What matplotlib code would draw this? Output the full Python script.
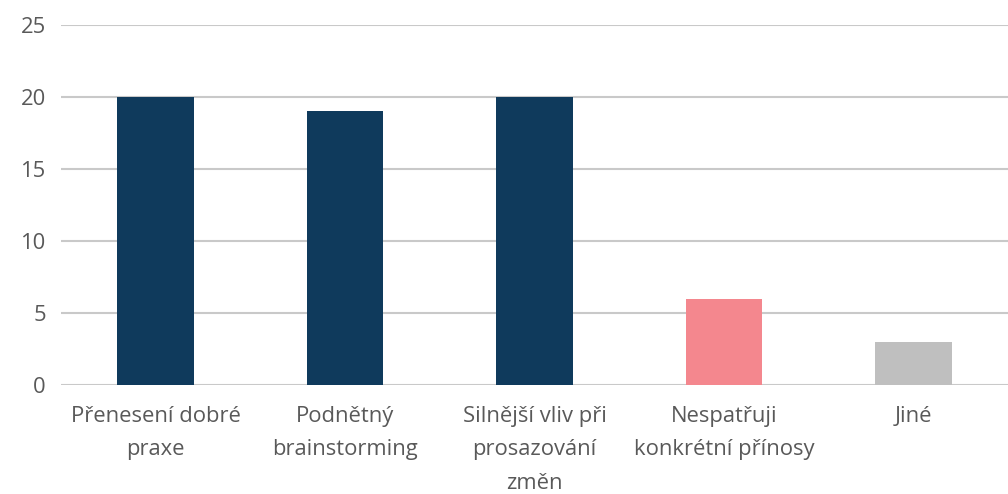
import matplotlib.pyplot as plt

categories = ['Přenesení dobré\npraxe', 'Podnětný\nbrainstorming',
              'Silnější vliv při\nprosazování\nzměn',
              'Nespatřuji\nkonkrétní přínosy', 'Jiné']
values = [20, 19, 20, 6, 3]
colors = ['#0F3A5C', '#0F3A5C', '#0F3A5C', '#F4878E', '#BFBFBF']
yticks = [0, 5, 10, 15, 20, 25]

plt.rcParams['font.family'] = ['Open Sans', 'DejaVu Sans']

fig = plt.figure(figsize=(10.08, 4.94), dpi=100)
ax = fig.add_axes([0.0605, 0.2206, 0.9395, 0.7287])

x = range(len(values))
ax.bar(x, values, width=0.405, color=colors, zorder=3)
ax.set_xlim(-0.5, len(values) - 0.5)
ax.set_ylim(0, 25)
ax.set_yticks(yticks)
ax.yaxis.grid(True, color='#C9C9C9', linewidth=1.5, zorder=0)
ax.set_axisbelow(True)

for s in ax.spines.values():
    s.set_visible(False)

ax.set_xticks(list(x))
ax.set_xticklabels(categories, linespacing=1.78, va='top')
ax.tick_params(axis='both', length=0, labelsize=15.8, colors='#595959')
ax.tick_params(axis='x', pad=15)
ax.tick_params(axis='y', pad=11)

fig.savefig('out.png', dpi=100)
